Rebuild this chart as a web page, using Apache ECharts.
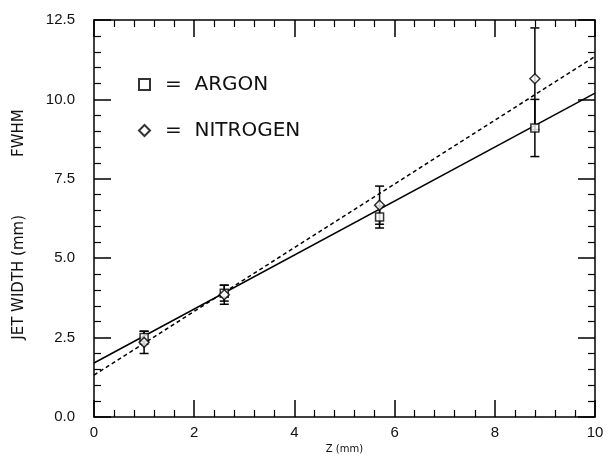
<!DOCTYPE html>
<html>
<head>
<meta charset="utf-8">
<script src="https://cdn.jsdelivr.net/npm/echarts@6/dist/echarts.min.js"></script>
<style>
html,body{margin:0;padding:0;background:#fff;}
#chart{width:616px;height:460px;}
</style>
</head>
<body>
<div id="chart"></div>
<script>
// ---- data ----
const zValues = [1.0, 2.6, 5.7, 8.8];
const argonWidth = [2.5, 3.9, 6.3, 9.1];
const argonError = [0.2, 0.25, 0.35, 0.9];
const nitrogenWidth = [2.35, 3.85, 6.67, 10.65];
const nitrogenError = [0.35, 0.3, 0.6, 1.6];
const fitZ = [0, 10];
const argonFit = [1.7, 10.2];
const nitrogenFit = [1.32, 11.35];
const seriesNames = ['ARGON', 'NITROGEN'];

const chart = echarts.init(document.getElementById('chart'), null, {renderer: 'canvas'});

function pairs(xs, ys) { return xs.map((x, i) => [x, ys[i]]); }
function errData(xs, ys, es) { return xs.map((x, i) => [x, ys[i] - es[i], ys[i] + es[i]]); }

function errRender(params, api) {
  const x = api.value(0);
  const lo = api.coord([x, api.value(1)]);
  const hi = api.coord([x, api.value(2)]);
  const w = 4.5;
  const st = {stroke: '#000', lineWidth: 1.5};
  return {
    type: 'group',
    children: [
      {type: 'line', shape: {x1: lo[0], y1: lo[1], x2: hi[0], y2: hi[1]}, style: st},
      {type: 'line', shape: {x1: lo[0] - w, y1: lo[1], x2: lo[0] + w, y2: lo[1]}, style: st},
      {type: 'line', shape: {x1: hi[0] - w, y1: hi[1], x2: hi[0] + w, y2: hi[1]}, style: st}
    ]
  };
}

const tickFont = {fontFamily: 'Liberation Sans', fontSize: 15, color: '#111'};
const axisLine = {show: true, onZero: false, lineStyle: {color: '#000', width: 1.5}};

const option = {
  backgroundColor: '#fff',
  animation: false,
  grid: {left: 94, right: 21, top: 20, bottom: 43},
  legend: {
    data: seriesNames,
    orient: 'vertical',
    left: 133, top: 67,
    itemWidth: 11, itemHeight: 11,
    itemGap: 21,
    formatter: n => '=  ' + n,
    textStyle: {fontFamily: 'DejaVu Sans', fontSize: 20, color: '#111', lineHeight: 25, padding: [0, 0, 0, 10]}
  },
  xAxis: [{
    type: 'value', min: 0, max: 10, interval: 2, position: 'bottom',
    axisLine: axisLine,
    axisTick: {inside: true, length: 17, lineStyle: {color: '#000', width: 1.5}},
    minorTick: {show: true, splitNumber: 5, length: 7, lineStyle: {color: '#000', width: 1.2}},
    splitLine: {show: false},
    axisLabel: Object.assign({margin: 8}, tickFont),
    name: 'Z (mm)', nameLocation: 'middle', nameGap: 27,
    nameTextStyle: {fontFamily: 'DejaVu Sans', fontSize: 10, color: '#111'}
  }, {
    type: 'value', min: 0, max: 10, interval: 2, position: 'top',
    axisLine: axisLine,
    axisTick: {inside: true, length: 17, lineStyle: {color: '#000', width: 1.5}},
    minorTick: {show: true, splitNumber: 5, length: 7, lineStyle: {color: '#000', width: 1.2}},
    splitLine: {show: false},
    axisLabel: {show: false}
  }],
  yAxis: [{
    type: 'value', min: 0, max: 12.5, interval: 2.5, position: 'left',
    axisLine: axisLine,
    axisTick: {inside: true, length: 17, lineStyle: {color: '#000', width: 1.5}},
    minorTick: {show: true, splitNumber: 5, length: 7, lineStyle: {color: '#000', width: 1.2}},
    splitLine: {show: false},
    axisLabel: Object.assign({margin: 19, formatter: v => v.toFixed(1)}, tickFont),
    name: '{a|JET WIDTH (mm)}{b|FWHM}', nameLocation: 'middle', nameGap: 67, nameRotate: 90,
    nameTextStyle: {
      rich: {
        a: {fontFamily: 'DejaVu Sans', fontSize: 15, color: '#111'},
        b: {fontFamily: 'DejaVu Sans', fontSize: 15, color: '#111', padding: [0, 12, 0, 58]}
      }
    }
  }, {
    type: 'value', min: 0, max: 12.5, interval: 2.5, position: 'right',
    axisLine: axisLine,
    axisTick: {inside: true, length: 17, lineStyle: {color: '#000', width: 1.5}},
    minorTick: {show: true, splitNumber: 5, length: 7, lineStyle: {color: '#000', width: 1.2}},
    splitLine: {show: false},
    axisLabel: {show: false}
  }],
  series: [
    {
      name: 'argon fit', type: 'line', data: pairs(fitZ, argonFit), showSymbol: false, symbol: 'none',
      lineStyle: {color: '#000', width: 1.5}, z: 2
    },
    {
      name: 'nitrogen fit', type: 'line', data: pairs(fitZ, nitrogenFit), showSymbol: false, symbol: 'none',
      lineStyle: {color: '#000', width: 1.5, type: [4, 3]}, z: 2
    },
    {
      name: 'argon err', type: 'custom', renderItem: errRender, data: errData(zValues, argonWidth, argonError),
      encode: {x: 0, y: [1, 2]}, z: 3
    },
    {
      name: 'nitrogen err', type: 'custom', renderItem: errRender, data: errData(zValues, nitrogenWidth, nitrogenError),
      encode: {x: 0, y: [1, 2]}, z: 3
    },
    {
      name: 'ARGON', type: 'scatter', data: pairs(zValues, argonWidth), symbol: 'rect', symbolSize: 8,
      itemStyle: {color: '#fff', borderColor: '#000', borderWidth: 1.5}, z: 4
    },
    {
      name: 'NITROGEN', type: 'scatter', data: pairs(zValues, nitrogenWidth), symbol: 'diamond', symbolSize: 10,
      itemStyle: {color: '#fff', borderColor: '#000', borderWidth: 1.5}, z: 4
    }
  ]
};
chart.setOption(option);
</script>
</body>
</html>
